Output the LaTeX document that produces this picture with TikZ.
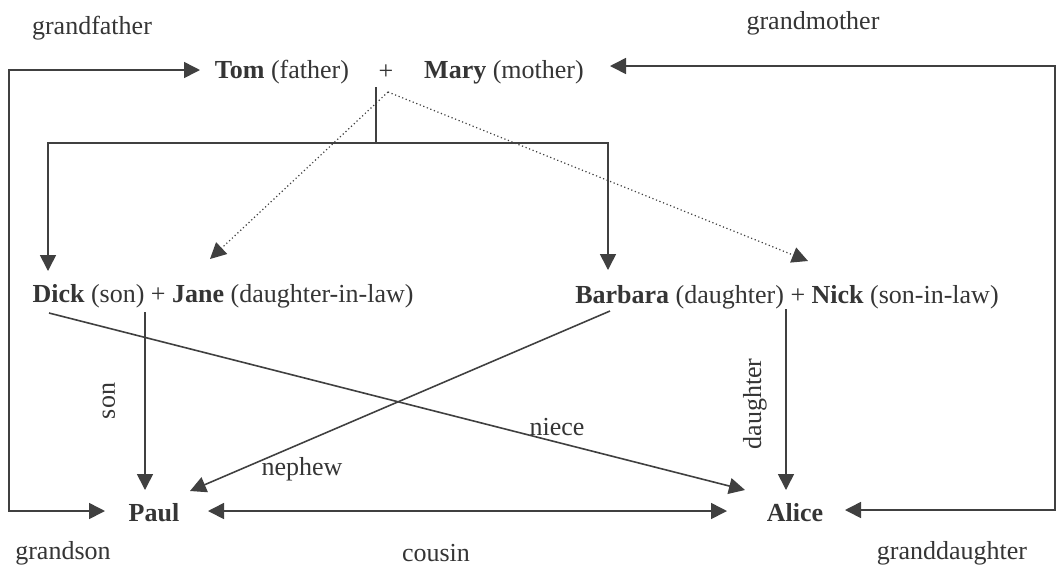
\documentclass[tikz,border=0pt]{standalone}
\usepackage{fontspec}
\setmainfont{Liberation Serif}
\usetikzlibrary{arrows.meta}
\definecolor{ink}{HTML}{353535}
\definecolor{lineink}{HTML}{404040}
\begin{document}
\begin{tikzpicture}[x=0.5pt,y=-0.5pt,
  font=\fontsize{13}{15}\selectfont,
  every node/.style={text=ink, inner sep=0pt},
  conn/.style={draw=lineink, line width=0.8pt},
  tip/.style={-{Triangle[length=8pt,width=8pt]}},
  dtip/.style={{Triangle[length=8pt,width=8pt]}-{Triangle[length=8pt,width=8pt]}},
  dots/.style={draw=lineink, line width=0.6pt, dash pattern=on 0.6pt off 1.3pt},
  rot/.style={rotate=90}]
\useasboundingbox[fill=white] (0,0) rectangle (1062,570);

% people
\node (tom)  at (282,72) {\textbf{Tom} (father)};
\node (plus) at (386,72) {+};
\node (mary) at (504,72) {\textbf{Mary} (mother)};
\node (dick) at (223,296) {\textbf{Dick} (son) + \textbf{Jane} (daughter-in-law)};
\node (barb) at (787,297) {\textbf{Barbara} (daughter) + \textbf{Nick} (son-in-law)};
\node (paul) at (154,513) {\textbf{Paul}};
\node (alice) at (795,513) {\textbf{Alice}};

% labels
\node (gf)  at (92,28)  {grandfather};
\node (gm)  at (813,23) {grandmother};
\node (gs)  at (63,553) {grandson};
\node (cou) at (436,553) {cousin};
\node (gd)  at (952,553) {granddaughter};
\node[rot] (sonl) at (109,401) {son};
\node[rot] (dtrl) at (755,404) {daughter};
\node (neph) at (302,469) {nephew};
\node (niec) at (557,427) {niece};

% connector points
\coordinate (tomin)   at (200,70);
\coordinate (gfL)     at (9,70);
\coordinate (gfB)     at (9,511);
\coordinate (paulinL) at (105,511);
\coordinate (maryin)  at (610,66);
\coordinate (gmR)     at (1055,66);
\coordinate (gmB)     at (1055,510);
\coordinate (aliceinR) at (845,510);
\coordinate (stemtop) at (376,87);
\coordinate (barmid)  at (376,143);
\coordinate (barL)    at (48,143);
\coordinate (barR)    at (608,143);
\coordinate (dickin)  at (48,271);
\coordinate (barbin)  at (608,270);
\coordinate (apex)    at (388,92);
\coordinate (janein)  at (210,259);
\coordinate (nickin)  at (808,261);
\coordinate (sonout)  at (145,312);
\coordinate (paulinT) at (145,490);
\coordinate (dickout) at (49,313);
\coordinate (aliceinN) at (745,490);
\coordinate (barbout) at (610,311);
\coordinate (paulinN) at (190,491);
\coordinate (nickout) at (786,309);
\coordinate (aliceinT) at (786,490);
\coordinate (paulinR) at (208,511);
\coordinate (aliceinL) at (727,511);

% grandparents loops
\draw[conn,dtip] (tomin) -- (gfL) -- (gfB) -- (paulinL);
\draw[conn,dtip] (maryin) -- (gmR) -- (gmB) -- (aliceinR);

% children
\draw[conn] (stemtop) -- (barmid);
\draw[conn,tip] (barmid) -- (barL) -- (dickin);
\draw[conn,tip] (barmid) -- (barR) -- (barbin);

% in-laws (dotted)
\draw[dots,tip] (apex) -- (janein);
\draw[dots,tip] (apex) -- (nickin);

% grandchildren
\draw[conn,tip] (sonout) -- (paulinT);
\draw[conn,tip] (dickout) -- (aliceinN);
\draw[conn,tip] (barbout) -- (paulinN);
\draw[conn,tip] (nickout) -- (aliceinT);
\draw[conn,dtip] (paulinR) -- (aliceinL);
\end{tikzpicture}
\end{document}
